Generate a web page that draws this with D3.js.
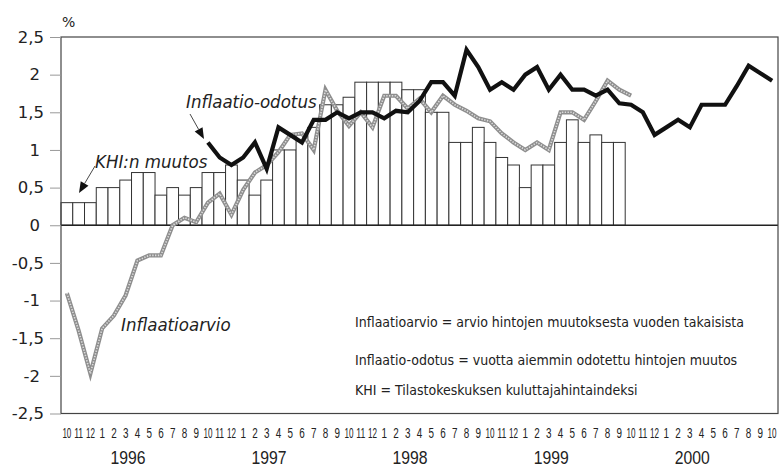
<!DOCTYPE html>
<html><head><meta charset="utf-8">
<script src="https://cdn.jsdelivr.net/npm/d3@7"></script>
<style>
html,body{margin:0;padding:0;background:#fff;}
svg{display:block;}
</style></head><body>
<svg id="chart" width="782" height="467"></svg>
<script>
// ---- data ----
const months = [
 "10","11","12",
 "1","2","3","4","5","6","7","8","9","10","11","12",
 "1","2","3","4","5","6","7","8","9","10","11","12",
 "1","2","3","4","5","6","7","8","9","10","11","12",
 "1","2","3","4","5","6","7","8","9","10","11","12",
 "1","2","3","4","5","6","7","8","9","10"
];
const years = ["1996","1997","1998","1999","2000"];
const yTicks = [2.5,2,1.5,1,0.5,0,-0.5,-1,-1.5,-2,-2.5];

// KHI:n muutos (bars), from 10/1995
const khi = [0.3,0.3,0.3,
 0.5,0.5,0.6,0.7,0.7,0.4,0.5,0.4,0.5,0.7,0.7,0.8,
 0.6,0.4,0.6,1.0,1.0,1.2,1.3,1.6,1.6,1.7,1.9,1.9,
 1.9,1.9,1.8,1.8,1.5,1.5,1.1,1.1,1.3,1.1,0.9,0.8,
 0.5,0.8,0.8,1.1,1.4,1.1,1.2,1.1,1.1];

// Inflaatioarvio (grey line), from 10/1995
const inflaatioarvio = [-0.9,-1.4,-1.97,
 -1.37,-1.2,-0.93,-0.47,-0.4,-0.4,0.0,0.1,0.04,0.3,0.42,0.14,
 0.47,0.7,0.8,0.97,1.2,1.22,1.0,1.8,1.52,1.32,1.5,1.3,
 1.72,1.72,1.55,1.68,1.5,1.72,1.6,1.52,1.42,1.38,1.22,1.1,
 1.0,1.1,1.0,1.5,1.5,1.4,1.65,1.92,1.8,1.72];

// Inflaatio-odotus (black line), from 10/1995 (starts 10/1996)
const inflaatioOdotus = [null,null,null,
 null,null,null,null,null,null,null,null,null,1.1,0.9,0.8,
 0.9,1.1,0.75,1.3,1.2,1.1,1.4,1.4,1.5,1.42,1.5,1.5,
 1.42,1.52,1.5,1.65,1.9,1.9,1.72,2.33,2.1,1.8,1.9,1.8,
 2.0,2.1,1.8,2.0,1.8,1.8,1.72,1.8,1.62,1.6,1.5,1.2,
 1.3,1.4,1.3,1.6,1.6,1.6,1.85,2.12,2.02,1.92];

const seriesLabels = ["Inflaatio-odotus","KHI:n muutos","Inflaatioarvio"];
const notes = [
 "Inflaatioarvio = arvio hintojen muutoksesta vuoden takaisista",
 "Inflaatio-odotus = vuotta aiemmin odotettu hintojen muutos",
 "KHI = Tilastokeskuksen kuluttajahintaindeksi"
];
const unitLabel = "%";

// ---- layout ----
const svg = d3.select("#chart");
const L = 61, R = 778, T = 37, B = 413.5;
const x = d3.scaleBand().domain(d3.range(months.length)).range([L, R]).padding(0);
const y = d3.scaleLinear().domain([-2.5, 2.5]).range([B, T]);
const bw = x.bandwidth();
const cx = i => x(i) + bw / 2;

const condensed = '"DejaVu Sans Condensed","DejaVu Sans",sans-serif';
const arial = '"Liberation Sans",Arial,sans-serif';
const textCol = "#222";

// bars
svg.append("g").selectAll("rect")
  .data(khi.map((v, i) => ({v, i})))
  .join("rect")
  .attr("x", d => x(d.i))
  .attr("y", d => y(d.v))
  .attr("width", bw)
  .attr("height", d => y(0) - y(d.v))
  .attr("fill", "#fff")
  .attr("stroke", "#333")
  .attr("stroke-width", 1);

// zero line
svg.append("line")
  .attr("x1", L).attr("x2", R).attr("y1", y(0)).attr("y2", y(0))
  .attr("stroke", "#222").attr("stroke-width", 1.3);

// frame
svg.append("rect")
  .attr("x", L).attr("y", T).attr("width", R - L).attr("height", B - T)
  .attr("fill", "none").attr("stroke", "#444").attr("stroke-width", 1.2);

const line = d3.line()
  .defined(d => d.v != null)
  .x(d => cx(d.i))
  .y(d => y(d.v));

// grey line (textured)
const arvioData = inflaatioarvio.map((v, i) => ({v, i}));
svg.append("path").datum(arvioData)
  .attr("d", line).attr("fill", "none")
  .attr("stroke", "#8e8e8e").attr("stroke-width", 4.2)
  .attr("stroke-linejoin", "miter");
svg.append("path").datum(arvioData)
  .attr("d", line).attr("fill", "none")
  .attr("stroke", "#dcdcdc").attr("stroke-width", 1.6)
  .attr("stroke-dasharray", "1.4,1.4");

// black line
svg.append("path").datum(inflaatioOdotus.map((v, i) => ({v, i})))
  .attr("d", line).attr("fill", "none")
  .attr("stroke", "#111").attr("stroke-width", 4.2)
  .attr("stroke-linejoin", "miter").attr("stroke-miterlimit", 6);

// y axis
const fmt = d => String(d).replace(".", ",");
const yAxis = svg.append("g").attr("transform", `translate(${L},0)`)
  .call(d3.axisLeft(y).tickValues(yTicks).tickSize(11).tickFormat(fmt));
yAxis.select(".domain").remove();
yAxis.selectAll(".tick line").attr("stroke", "#999").attr("stroke-width", 1);
yAxis.selectAll(".tick text")
  .attr("x", d => Number.isInteger(d) ? -21 : -17)
  .attr("fill", textCol)
  .style("font-family", '"DejaVu Sans",sans-serif')
  .style("font-size", "16.5px");

svg.append("text").attr("x", 62).attr("y", 27).text(unitLabel)
  .attr("fill", textCol)
  .style("font-family", '"DejaVu Sans",sans-serif').style("font-size", "14px");

// month labels
svg.append("g").selectAll("text")
  .data(months.map((m, i) => ({m, i})))
  .join("text")
  .attr("x", d => cx(d.i))
  .attr("y", 438)
  .attr("text-anchor", "middle")
  .attr("fill", textCol)
  .style("font-family", arial)
  .style("font-size", "14px")
  .attr("textLength", d => d.m.length > 1 ? 9 : 5.5)
  .attr("lengthAdjust", "spacingAndGlyphs")
  .text(d => d.m);

// year labels, placed relative to each January
const janIdx = months.map((m, i) => m === "1" ? i : -1).filter(i => i >= 0);
svg.append("g").selectAll("text")
  .data(years.map((yv, k) => ({yv, i: janIdx[k]})))
  .join("text")
  .attr("x", d => cx(d.i) + 2.2 * bw)
  .attr("y", 464)
  .attr("text-anchor", "middle")
  .attr("fill", textCol)
  .style("font-family", arial)
  .style("font-size", "18.5px")
  .attr("textLength", 35)
  .attr("lengthAdjust", "spacingAndGlyphs")
  .text(d => d.yv);

// annotations
const ann = svg.append("g").attr("fill", textCol)
  .style("font-family", condensed).style("font-stretch", "condensed")
  .style("font-style", "italic").style("font-size", "18.5px");
ann.append("text").attr("x", 186).attr("y", 108).text(seriesLabels[0]);
ann.append("text").attr("x", 95).attr("y", 168).text(seriesLabels[1]);
ann.append("text").attr("x", 121).attr("y", 331).text(seriesLabels[2]);

function arrow(x1, y1, x2, y2) {
  const a = Math.atan2(y2 - y1, x2 - x1);
  const len = 11, w = 4.5;
  const bx = x2 - len * Math.cos(a), by = y2 - len * Math.sin(a);
  svg.append("line").attr("x1", x1).attr("y1", y1).attr("x2", bx).attr("y2", by)
    .attr("stroke", "#333").attr("stroke-width", 0.9);
  svg.append("path")
    .attr("d", `M${x2},${y2}L${bx + w * Math.sin(a)},${by - w * Math.cos(a)}L${bx - w * Math.sin(a)},${by + w * Math.cos(a)}Z`)
    .attr("fill", "#111");
}
arrow(190, 114, 204, 139);
arrow(95, 166, 79, 193);

// notes
svg.append("g").selectAll("text")
  .data(notes).join("text")
  .attr("x", 355)
  .attr("y", (d, k) => [326.5, 364.5, 395][k])
  .attr("fill", textCol)
  .style("font-family", condensed).style("font-stretch", "condensed")
  .style("font-size", "14px")
  .text(d => d);
</script>
</body></html>
